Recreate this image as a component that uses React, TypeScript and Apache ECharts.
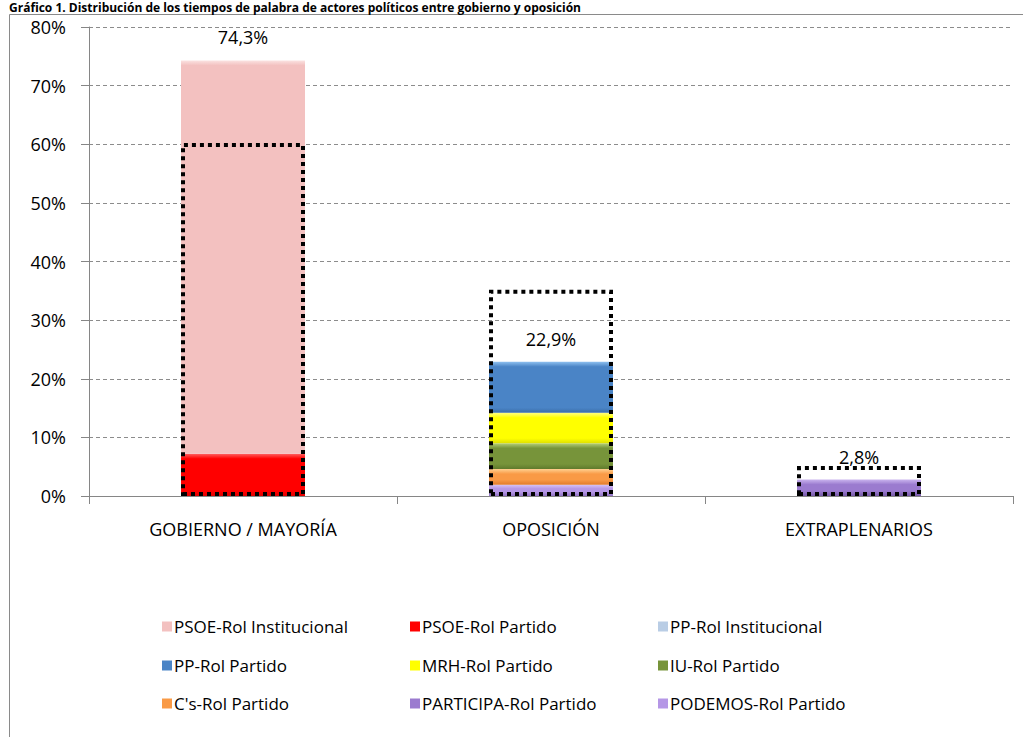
import React, { useEffect, useRef } from "react";
import * as echarts from "echarts";

const categories = ["GOBIERNO / MAYORÍA", "OPOSICIÓN", "EXTRAPLENARIOS"];

// legend order (display)
const legendNames = [
  "PSOE-Rol Institucional",
  "PSOE-Rol Partido",
  "PP-Rol Institucional",
  "PP-Rol Partido",
  "MRH-Rol Partido",
  "IU-Rol Partido",
  "C's-Rol Partido",
  "PARTICIPA-Rol Partido",
  "PODEMOS-Rol Partido",
];

const psoeInstitucional = [67.1, 0, 0];
const psoePartido = [7.2, 0, 0];
const ppInstitucional = [0, 0, 0];
const ppPartido = [0, 8.7, 0];
const mrhPartido = [0, 5.2, 0];
const iuPartido = [0, 4.4, 0];
const csPartido = [0, 2.7, 0];
const participaPartido = [0, 0, 2.8];
const podemosPartido = [0, 1.9, 0];

const totals = [74.3, 22.9, 2.8];
const outlineValues = [60.2, 35.2, 5.1];

const yTicks = { min: 0, max: 80, interval: 10 };

const FONT = "'Open Sans', 'Liberation Sans', sans-serif";

type SeriesDef = { name: string; data: number[]; base: string; light: string; dark: string };

// stacking order: bottom first
const stackDefs: SeriesDef[] = [
  { name: "PODEMOS-Rol Partido", data: podemosPartido, base: "#b597e6", light: "#d6c2f5", dark: "#8f70c2" },
  { name: "PARTICIPA-Rol Partido", data: participaPartido, base: "#9b7bcf", light: "#c9b3ee", dark: "#7558a6" },
  { name: "C's-Rol Partido", data: csPartido, base: "#f99a46", light: "#ffd090", dark: "#e07a2a" },
  { name: "IU-Rol Partido", data: iuPartido, base: "#77943a", light: "#b5d07a", dark: "#5f7a2c" },
  { name: "MRH-Rol Partido", data: mrhPartido, base: "#ffff00", light: "#ffff80", dark: "#e0e000" },
  { name: "PP-Rol Partido", data: ppPartido, base: "#4a84c6", light: "#8ec0f0", dark: "#3a6ea8" },
  { name: "PP-Rol Institucional", data: ppInstitucional, base: "#b9cde5", light: "#dbe8f5", dark: "#9fb6d2" },
  { name: "PSOE-Rol Partido", data: psoePartido, base: "#ff0000", light: "#ff6060", dark: "#e00000" },
  { name: "PSOE-Rol Institucional", data: psoeInstitucional, base: "#f3c1c0", light: "#fbe3e2", dark: "#f3c1c0" },
];

const legendPos = [
  [162, 618], [410, 618], [658, 618],
  [162, 657], [410, 657], [658, 657],
  [162, 695], [410, 695], [658, 695],
];

const fmt = (v: number) => v.toFixed(1).replace(".", ",") + "%";

export default function App() {
  const ref = useRef<HTMLDivElement>(null);
  useEffect(() => {
    if (!ref.current) return;
    const chart = echarts.init(ref.current, undefined, { renderer: "svg" });
    const pxPerUnit = 469 / 80;

    const stackSeries = stackDefs.map((d) => ({
      name: d.name,
      type: "bar",
      stack: "total",
      barWidth: 124,
      itemStyle: { color: d.base },
      data: d.data.map((v) => {
        const h = Math.max(v * pxPerUnit, 1);
        const f = Math.min(0.35, 5 / h);
        return {
          value: v,
          itemStyle: {
            color: new echarts.graphic.LinearGradient(0, 0, 0, 1, [
              { offset: 0, color: d.light },
              { offset: f, color: d.base },
              { offset: 1 - f, color: d.base },
              { offset: 1, color: d.dark },
            ]),
          },
        };
      }),
    }));

    const option: any = {
      animation: false,
      backgroundColor: "#fff",
      textStyle: { fontFamily: FONT },
      grid: { left: 89, right: 10, top: 27, bottom: 241, containLabel: false },
      xAxis: {
        type: "category",
        data: categories,
        axisLine: { lineStyle: { color: "#868686", width: 1 } },
        axisTick: { show: true, length: 8, lineStyle: { color: "#868686" } },
        axisLabel: { color: "#000", fontSize: 18, margin: 24, fontFamily: FONT },
      },
      yAxis: {
        type: "value",
        min: yTicks.min,
        max: yTicks.max,
        interval: yTicks.interval,
        axisLine: { show: true, lineStyle: { color: "#868686" } },
        axisTick: { show: true, length: 8, inside: false, lineStyle: { color: "#868686" } },
        axisLabel: { color: "#000", fontSize: 18, margin: 23, formatter: (v: number) => v + "%", fontFamily: FONT },
        splitLine: { show: true, lineStyle: { color: "#8c8c8c", type: [4, 3], width: 1 } },
      },
      legend: legendNames.map((n, i) => ({
        data: [n],
        left: legendPos[i][0],
        top: legendPos[i][1],
        padding: 0,
        itemWidth: 10,
        itemHeight: 10,
        itemGap: 0,
        icon: "rect",
        selectedMode: false,
        textStyle: { fontSize: 17, color: "#000", fontFamily: FONT, padding: [0, 0, 0, -3] },
      })),
      series: [
        ...stackSeries,
        {
          name: "contorno",
          type: "bar",
          barWidth: 124,
          barGap: "-100%",
          z: 5,
          itemStyle: {
            color: "rgba(0,0,0,0)",
            borderColor: "#000",
            borderWidth: 4,
            borderType: [4, 4],
          },
          data: outlineValues,
          silent: true,
        },
        {
          name: "totales",
          type: "scatter",
          symbolSize: 0,
          z: 10,
          itemStyle: { opacity: 1 },
          data: totals,
          label: {
            show: true,
            position: "top",
            distance: 14,
            color: "#000",
            opacity: 1,
            fontSize: 18,
            fontFamily: FONT,
            formatter: (p: any) => fmt(p.value),
          },
        },
      ],
      graphic: [
        {
          type: "rect",
          shape: { x: 9.5, y: 14.5, width: 1040, height: 760 },
          style: { fill: "none", stroke: "#8a8a8a", lineWidth: 1 },
          silent: true,
          z: -1,
        },
        {
          type: "text",
          x: 9,
          y: 1,
          style: {
            text: "Gráfico 1. Distribución de los tiempos de palabra de actores políticos entre gobierno y oposición",
            fill: "#000",
            font: "bold 12px 'Open Sans', sans-serif",
            textVerticalAlign: "top",
          },
        },
      ],
    };
    chart.setOption(option);
    return () => chart.dispose();
  }, []);
  return <div ref={ref} style={{ position: "absolute", left: 0, top: 0, width: 1023, height: 737 }} />;
}
